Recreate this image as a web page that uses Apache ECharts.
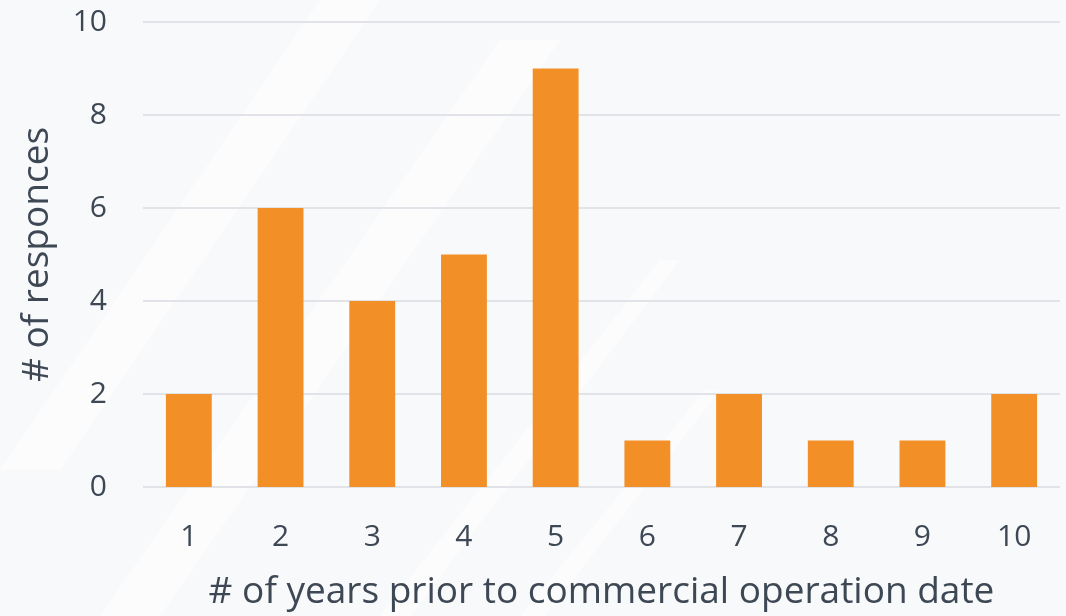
<!DOCTYPE html>
<html>
<head>
<meta charset="utf-8">
<script src="https://cdn.jsdelivr.net/npm/echarts@6/dist/echarts.min.js"></script>
<style>
  html, body { margin: 0; padding: 0; background: #f8f9fb; }
  #chart { width: 1066px; height: 616px; }
</style>
</head>
<body>
<div id="chart"></div>
<script>
// Years before commercial operation date and number of responses for each
const years = ['1', '2', '3', '4', '5', '6', '7', '8', '9', '10'];
const responses = [2, 6, 4, 5, 9, 1, 2, 1, 1, 2];
const yTicks = [0, 2, 4, 6, 8, 10];

const textColor = '#3e4855';
const fontFamily = '"Open Sans", "Noto Sans", sans-serif';

const chart = echarts.init(document.getElementById('chart'));

// Faint diagonal light streaks across the background
const streaks = [
  [[0, 470], [60, 470], [380, 0], [320, 0]],
  [[100, 616], [160, 616], [560, 40], [500, 40]],
  [[380, 616], [410, 616], [680, 260], [660, 260]],
  [[520, 616], [545, 616], [720, 390], [705, 390]]
].map(pts => ({
  type: 'polygon',
  z: -10,
  silent: true,
  shape: { points: pts },
  style: { fill: 'rgba(255,255,255,0.55)' }
}));

chart.setOption({
  backgroundColor: '#f8f9fb',
  animation: false,
  graphic: streaks,
  grid: { left: 143, right: 6, top: 22, bottom: 129 },
  xAxis: {
    type: 'category',
    data: years,
    name: '# of years prior to commercial operation date',
    nameLocation: 'middle',
    nameGap: 87,
    nameTextStyle: { fontSize: 37, color: textColor, fontFamily },
    axisLine: { show: false },
    axisTick: { show: false },
    axisLabel: { fontSize: 30, color: textColor, fontFamily, margin: 35 }
  },
  yAxis: {
    type: 'value',
    min: yTicks[0],
    max: yTicks[yTicks.length - 1],
    interval: 2,
    name: '# of responces',
    nameLocation: 'middle',
    nameGap: 87,
    nameTextStyle: { fontSize: 37, color: textColor, fontFamily },
    axisLabel: { fontSize: 30, color: textColor, fontFamily, margin: 36 },
    splitLine: { lineStyle: { color: '#e1e3e8', width: 2 } },
    axisLine: { show: false },
    axisTick: { show: false }
  },
  series: [{
    type: 'bar',
    data: responses,
    barCategoryGap: '50%',
    itemStyle: { color: '#f28f26' }
  }]
});
</script>
</body>
</html>
